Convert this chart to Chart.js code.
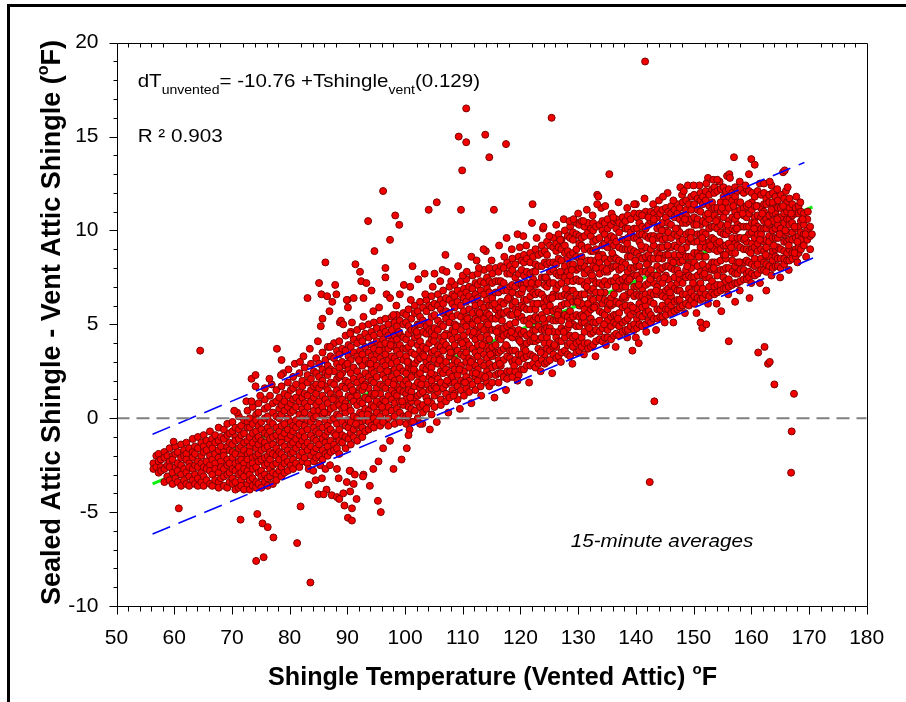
<!DOCTYPE html>
<html><head><meta charset="utf-8">
<script src="https://cdn.jsdelivr.net/npm/chart.js@4.4.1/dist/chart.umd.min.js"></script>
<style>html,body{margin:0;padding:0;background:#fff;}canvas{display:block;}</style>
</head><body>
<canvas id="c" width="906" height="702" style="width:906px;height:702px"></canvas>
<script>
const FONT = '"Liberation Sans", Arial, Helvetica, sans-serif';

// axis ranges / tick labels
const xRange = [50, 180];
const yRange = [-10, 20];
const xTickStep = 10, yTickStep = 5;

// regression line and prediction band
const fitX = [56.25, 170.6];
const fitY = [-3.50, 11.25];
const upperX = [56.25, 169.2];
const upperY = [-0.85, 13.62];
const lowerX = [56.25, 170.7];
const lowerY = [-6.17, 8.53];
const zeroX = [50, 180];
const zeroY = [0, 0];

// scatter cloud, columns: [x, y, y, ...]
const cloud55to70 = [
[56.4,-2.4,-2.7],[56.9,-2.0,-2.6],[57.3,-1.9,-2.3,-2.9],[57.7,-2.2,-2.6,-2.8],[58.3,-1.8,-2.1,-2.7,-3.4],
[58.8,-2.0,-2.5,-3.1],[59.2,-1.6,-2.3,-2.6,-3.3],[59.7,-2.0,-2.2,-2.9,-3.5],[60.2,-1.5,-1.9,-2.6,-3.2],
[60.6,-1.8,-2.4,-2.8,-3.4],[61.2,-1.4,-2.1,-2.5,-3.0,-3.6],[61.7,-1.7,-2.0,-2.7,-3.3],[62.1,-1.3,-1.9,-2.2,-2.9,-3.5],
[62.6,-1.6,-2.4,-2.6,-3.1,-3.6],[63.2,-1.1,-1.8,-2.1,-2.7,-3.3],[63.6,-1.5,-1.9,-2.5,-3.0,-3.5],
[64.1,-1.0,-1.6,-2.3,-2.6,-3.2,-3.6],[64.7,-1.3,-2.0,-2.4,-2.9,-3.4],[65.1,-0.9,-1.5,-1.8,-2.6,-3.1,-3.6],
[65.6,-1.2,-1.7,-2.3,-2.7,-3.3],[66.2,-0.7,-1.4,-2.0,-2.5,-2.8,-3.5],[66.6,-1.1,-1.6,-2.2,-3.0,-3.6],
[67.1,-0.9,-1.3,-1.9,-2.4,-2.7,-3.3],[67.7,-0.5,-1.2,-1.7,-2.1,-2.9,-3.4,-3.7],[68.1,-1.0,-1.5,-2.3,-2.6,-3.2],
[68.6,-0.6,-1.1,-1.8,-2.0,-2.7,-3.1,-3.6],[69.2,-0.3,-0.9,-1.5,-2.2,-2.5,-3.0,-3.7],[69.6,-0.8,-1.3,-1.7,-2.4,-2.9,-3.4]
];
const cloud70to85 = [
[70.1,-0.2,-0.7,-1.4,-1.8,-2.1,-2.7,-3.2,-3.5],[70.6,-0.5,-1.0,-1.2,-1.9,-2.4,-2.8,-3.4,-3.8],
[71.2,0.1,-0.6,-1.1,-1.6,-2.3,-2.6,-3.0,-3.7],[71.6,-0.4,-0.9,-1.5,-2.0,-2.2,-2.9,-3.3,-3.6],
[72.1,-0.1,-0.8,-1.3,-1.7,-2.4,-2.7,-3.1,-3.8],[72.7,0.4,-0.2,-0.5,-1.2,-1.9,-2.2,-2.8,-3.5],
[73.1,0.0,-0.5,-1.0,-1.5,-1.8,-2.5,-3.0,-3.3,-3.8],[73.6,0.6,-0.3,-0.8,-1.3,-2.1,-2.4,-2.7,-3.2,-3.6],
[74.2,0.2,-0.1,-0.7,-1.1,-1.6,-2.0,-2.6,-3.4,-3.7],[74.6,0.8,0.3,-0.4,-1.0,-1.4,-1.9,-2.3,-2.9,-3.5],
[75.1,-0.2,-0.6,-1.2,-1.7,-2.2,-2.8,-3.1,-3.7],[75.7,1.0,0.5,0.0,-0.8,-1.3,-1.6,-2.1,-2.5,-3.0,-3.4],
[76.2,0.6,0.1,-0.5,-0.9,-1.5,-2.0,-2.4,-3.2,-3.6],[76.6,1.2,-0.2,-0.7,-1.1,-1.8,-2.2,-2.7,-3.1],
[77.1,0.8,0.3,-0.3,-1.0,-1.4,-1.9,-2.5,-2.9,-3.5],[77.7,1.5,0.9,0.1,-0.5,-0.9,-1.6,-2.0,-2.4,-3.0,-3.3],
[78.2,1.1,0.5,0.0,-0.7,-1.2,-1.8,-2.2,-2.8],[78.6,1.7,0.7,0.2,-0.4,-1.0,-1.3,-1.9,-2.6,-3.1],
[79.1,1.3,0.9,0.4,-0.3,-0.8,-1.5,-2.1,-2.4,-2.9],[79.7,1.9,1.2,0.6,0.0,-0.6,-1.1,-1.7,-2.3,-2.8],
[80.2,1.5,0.8,0.3,-0.2,-0.9,-1.4,-1.9,-2.5],[80.6,2.2,1.6,1.0,0.4,-0.4,-0.7,-1.3,-1.8,-2.2,-2.7],
[81.1,1.8,1.1,0.6,-0.1,-0.5,-1.1,-1.6,-2.4],[81.7,2.4,1.4,0.9,0.2,-0.3,-0.9,-1.4,-2.0,-2.6],
[82.2,2.0,1.7,1.1,0.5,0.0,-0.7,-1.2,-1.8,-2.3],[82.6,2.7,1.3,0.8,0.3,-0.4,-1.0,-1.5,-2.1],
[83.1,2.3,1.9,1.2,0.6,-0.1,-0.6,-1.3,-1.7,-2.4],[83.7,2.9,2.1,1.5,0.9,0.2,-0.2,-0.9,-1.5,-2.0],
[84.2,2.5,1.7,1.1,0.4,0.0,-0.5,-1.1,-1.8,-2.3],[84.6,3.2,2.4,1.8,1.3,0.7,0.1,-0.7,-1.2,-1.6,-2.1]
];
const cloud85to100 = [
[85.1,2.9,2.2,1.6,0.9,0.4,-0.3,-0.8,-1.4,-2.0],[85.7,3.5,2.6,2.0,1.2,0.6,0.2,-0.5,-1.1,-1.7,-2.2],
[86.2,3.1,2.4,1.7,1.0,-0.1,-0.9,-1.3,-1.9],[86.6,3.8,2.8,2.3,1.5,0.8,0.3,-0.4,-0.7,-1.5,-2.0],
[87.1,3.3,2.6,1.9,1.3,0.5,-0.1,-0.6,-1.2,-1.8],[87.7,4.0,3.2,2.5,1.8,1.1,0.6,0.0,-0.8,-1.4,-1.7],
[88.2,3.6,2.9,2.1,1.5,0.9,0.2,-0.3,-1.0,-1.6],[88.6,4.1,3.4,2.7,2.2,1.3,0.7,0.1,-0.6,-1.2,-1.9],
[89.1,3.7,3.0,2.4,1.7,1.0,0.5,-0.2,-0.9,-1.3],[89.7,4.4,3.6,2.8,2.0,1.6,0.8,0.3,-0.4,-1.0,-1.6],
[90.2,3.9,3.3,2.6,1.9,1.2,0.6,-0.1,-0.5,-1.1],[90.6,4.6,3.8,3.1,2.4,1.7,1.1,0.4,-0.2,-0.8,-1.4],
[91.1,4.2,3.5,2.7,2.1,1.4,0.9,0.1,-0.6,-1.0],[91.7,4.7,4.0,3.3,2.5,1.9,1.2,0.7,0.0,-0.4,-1.2],
[92.2,4.3,3.6,3.0,2.2,1.6,0.9,0.3,-0.3,-0.8],[92.6,4.9,4.1,3.4,2.8,2.0,1.5,0.8,0.2,-0.5,-1.0],
[93.1,4.5,3.8,3.1,2.4,1.8,1.1,0.5,-0.1,-0.7],[93.7,5.0,4.3,3.5,2.9,2.2,1.6,1.0,0.4,-0.2,-0.6],
[94.2,4.6,3.9,3.3,2.6,2.0,1.3,0.7,0.1,-0.4],[94.6,5.1,4.4,3.7,3.1,2.4,1.9,1.2,0.6,0.0,-0.5],
[95.1,4.8,4.1,3.4,2.8,2.2,1.6,0.9,0.3,-0.2],[95.7,5.2,4.5,3.9,3.2,2.6,1.8,1.3,0.7,0.1,-0.4],
[96.2,4.8,4.2,3.6,3.0,2.3,1.7,1.0,0.5,-0.2],[96.6,5.3,4.6,4.0,3.4,2.8,2.1,1.6,0.9,0.3],
[97.1,5.0,4.4,3.7,3.1,2.5,1.9,1.2,0.6,0.0,-0.4],[97.7,5.4,4.7,4.1,3.3,2.9,2.2,1.5,1.0,0.4],
[98.2,5.1,4.4,3.8,3.2,2.6,2.0,1.3,0.8,0.1,-0.3],[98.6,5.5,4.9,4.2,3.6,3.0,2.4,1.7,1.2,0.5],
[99.1,5.2,4.5,3.9,3.4,2.7,2.1,1.5,0.9,0.3,-0.2],[99.7,5.6,5.0,4.3,3.7,3.1,2.5,1.8,1.4,0.7,0.1]
];
const cloud100to115 = [
[100.2,5.5,5.1,4.2,3.7,3.3,2.4,2.0,1.3,1.0,0.1,-0.3],[100.6,5.8,4.9,4.5,3.8,3.0,2.7,1.8,1.5,0.6,0.2],
[101.1,5.3,4.7,4.0,3.5,2.6,2.2,1.4,0.9,0.5,-0.2],[101.7,6.0,5.6,4.7,4.3,3.4,2.9,2.5,1.7,1.1,0.4],
[102.2,5.7,5.0,4.4,3.9,3.1,2.3,1.9,1.2,0.8,0.0],[102.6,6.2,5.4,5.0,4.1,3.6,3.2,2.4,1.6,1.3,0.6],
[103.1,5.9,5.2,4.6,3.8,3.4,2.7,2.1,1.4,0.7,0.3],[103.7,6.3,5.7,4.9,4.5,3.7,3.0,2.6,1.8,1.1,0.5],
[104.2,6.0,5.1,4.7,4.0,3.2,2.8,2.2,1.5,0.9],[104.6,6.5,5.9,5.4,4.6,4.2,3.5,2.7,2.0,1.6,0.8,0.2],
[105.1,6.1,5.5,4.8,4.4,3.6,3.1,2.3,1.7,1.2,0.6],[105.7,6.6,6.0,5.2,4.7,3.9,3.4,2.9,2.1,1.4],
[106.2,6.3,5.8,5.0,4.3,3.8,3.2,2.5,1.9,1.0,0.7],[106.6,6.8,6.1,5.6,4.9,4.1,3.6,2.8,2.4,1.6],
[107.1,6.4,5.7,5.3,4.5,3.9,3.0,2.6,1.8,1.3,0.9],[107.7,7.0,6.3,5.6,5.1,4.4,3.7,3.3,2.4,1.9,1.1],
[108.2,6.6,6.1,5.4,4.7,4.2,3.5,2.8,2.2,1.5],[108.6,7.1,6.5,5.9,5.0,4.6,3.9,3.1,2.6,1.9,1.3],
[109.1,6.8,6.2,5.5,4.9,4.3,3.6,3.0,2.3,1.7,1.0],[109.7,7.3,6.6,6.0,5.4,4.7,4.1,3.4,2.8,2.0,1.5],
[110.2,6.9,6.4,5.7,5.1,4.4,3.8,3.3,2.5,1.9,1.2],[110.6,7.4,6.7,6.2,5.4,4.9,4.1,3.5,3.0,2.2,1.6],
[111.1,7.0,6.5,5.8,5.2,4.6,3.9,3.2,2.7,2.0,1.4],[111.7,7.6,6.9,6.3,5.6,5.0,4.4,3.7,3.1,2.4,1.8],
[112.2,7.2,6.6,6.0,5.3,4.7,4.2,3.5,2.8,2.2,1.5],[112.6,7.7,7.1,6.4,5.7,5.2,4.5,3.9,3.3,2.6,2.0],
[113.1,7.3,6.8,6.1,5.5,4.9,4.3,3.6,3.0,2.3,1.7],[113.7,7.9,7.2,6.6,5.9,5.3,4.7,4.0,3.4,2.8,2.1],
[114.2,7.5,6.9,6.3,5.6,5.1,4.4,3.8,3.2,2.5,1.9],[114.6,8.0,7.3,6.7,6.0,5.5,4.8,4.2,3.6,2.9,2.3,1.7]
];
const cloud115to130 = [
[115.1,7.7,7.2,6.4,6.0,5.3,4.7,3.8,3.3,2.7,1.9],[115.7,8.0,7.3,6.7,5.8,5.3,4.7,3.9,3.5,2.8,2.3],
[116.2,7.8,7.3,6.7,5.9,5.5,4.8,4.3,3.5,3.1,2.4,1.9],[116.6,8.1,7.3,6.9,6.2,5.6,4.7,4.2,3.6,2.8,2.4],
[117.1,8.0,7.2,6.8,6.1,5.6,4.8,4.4,3.7,3.1,2.2],[117.7,8.3,7.7,6.8,6.3,5.7,4.9,4.5,3.8,3.3,2.5,2.1],
[118.2,8.1,7.7,7.0,6.4,5.5,5.0,4.4,3.6,3.2,2.5],[118.6,8.5,7.9,7.1,6.7,6.0,5.5,4.7,4.3,3.6,3.0,2.2],
[119.1,8.2,7.5,7.0,6.2,5.8,5.1,4.5,3.6,3.1,2.5],[119.7,8.6,7.7,7.2,6.6,5.8,5.4,4.7,4.2,3.4,3.0,2.3],
[120.2,8.4,7.9,7.1,6.7,6.0,5.4,4.5,4.0,3.4,2.6],[120.6,8.7,8.3,7.6,7.1,6.3,5.9,5.2,4.6,3.7,3.2,2.6],
[121.1,8.5,7.8,7.2,6.3,5.8,5.2,4.4,4.0,3.3,2.8],[121.7,8.8,8.3,7.7,6.9,6.5,5.8,5.3,4.5,4.1,3.4,2.8],
[122.2,8.6,7.8,7.4,6.7,6.1,5.2,4.7,4.1,3.3,2.9],[122.6,9.0,8.2,7.8,7.1,6.6,5.8,5.4,4.7,4.1,3.2,2.7],
[123.1,8.7,8.1,7.2,6.7,6.1,5.3,4.9,4.2,3.7,2.9],[123.7,9.2,8.8,8.1,7.5,6.6,6.1,5.5,4.7,4.3,3.6,3.1],
[124.2,8.9,8.3,7.5,7.1,6.4,5.9,5.1,4.7,4.0,3.4,2.9],[124.6,9.4,8.7,8.2,7.4,7.0,6.3,5.7,4.8,4.3,3.7,3.0],
[125.1,9.2,8.3,7.8,7.2,6.4,6.0,5.3,4.8,4.0,3.6,3.1],[125.7,9.6,9.1,8.3,7.9,7.2,6.6,5.7,5.2,4.6,3.8,3.4],
[126.2,9.3,8.9,8.2,7.7,6.9,6.5,5.8,5.2,4.3,3.8,3.2],[126.6,9.8,9.1,8.5,7.6,7.1,6.5,5.7,5.3,4.6,4.1,3.3],
[127.1,9.5,9.0,8.4,7.6,7.2,6.5,6.0,5.2,4.8,4.1,3.5],[127.7,10.0,9.2,8.8,8.1,7.5,6.6,6.1,5.5,4.7,4.3,3.6],
[128.2,9.7,8.9,8.5,7.8,7.3,6.5,6.1,5.4,4.8,3.9,3.4],[128.6,10.2,9.6,8.7,8.2,7.6,6.8,6.4,5.7,5.2,4.4,4.0,3.3],
[129.1,9.9,9.5,8.8,8.2,7.3,6.8,6.2,5.4,5.0,4.3,3.8],[129.7,10.4,9.8,9.0,8.6,7.9,7.4,6.6,6.2,5.5,4.9,4.0,3.5]
];
const cloud130to145 = [
[130.2,10.3,9.7,9.3,8.5,8.0,7.3,6.4,6.0,5.4,4.9,4.1,3.6],[130.6,10.5,9.6,9.2,8.6,8.1,7.3,6.6,6.1,5.5,5.1,4.3,3.8],
[131.1,10.2,9.7,9.0,8.1,7.7,7.1,6.6,5.8,5.1,4.6,4.0],[131.7,10.4,9.9,9.1,8.4,7.9,7.3,6.9,6.1,5.6,4.9,4.0,3.7],
[132.2,10.1,9.7,8.9,8.4,7.7,6.8,6.4,5.8,5.3,4.5,3.8],[132.6,10.4,10.0,9.4,8.9,8.1,7.4,6.9,6.3,5.9,5.1,4.6,3.9],
[133.1,10.2,9.5,9.0,8.4,8.0,7.2,6.7,6.0,5.1,4.7,4.1],[133.7,10.3,9.6,8.7,8.3,7.7,7.2,6.4,5.7,5.2,4.6,4.2],
[134.2,10.5,10.0,9.2,8.7,8.0,7.1,6.7,6.1,5.6,4.8,4.1],[134.6,10.4,9.8,9.3,8.5,7.8,7.3,6.7,6.3,5.5,5.0,4.3],
[135.1,10.6,10.1,9.5,9.1,8.3,7.8,7.1,6.2,5.8,5.2,4.7,4.3],[135.7,10.3,9.7,9.3,8.5,8.0,7.3,6.4,6.0,5.4,4.9,4.2],
[136.2,10.5,9.6,9.2,8.6,8.1,7.3,6.6,6.1,5.5,5.1,4.4],[136.6,10.6,10.1,9.4,8.5,8.1,7.5,7.0,6.2,5.5,5.0,4.5],
[137.1,10.4,9.9,9.1,8.4,7.9,7.3,6.9,6.1,5.6,4.9,4.4],[137.7,10.7,10.3,9.5,9.0,8.3,7.4,7.0,6.4,5.9,5.1,4.6],
[138.2,10.5,10.1,9.5,9.0,8.2,7.5,7.0,6.4,6.0,5.2,4.7],[138.6,10.8,10.1,9.6,9.0,8.6,7.8,7.3,6.6,5.7,5.3,4.7],
[139.1,10.6,9.9,9.0,8.6,8.0,7.5,6.7,6.0,5.5,4.9],[139.7,10.9,10.1,9.6,8.9,8.0,7.6,7.0,6.5,5.7,5.0,4.7],
[140.2,10.7,10.1,9.6,8.8,8.1,7.6,7.0,6.6,5.8,5.3,4.8],[140.6,10.9,10.4,9.8,9.4,8.6,8.1,7.4,6.5,6.1,5.5,5.0],
[141.1,10.8,10.2,9.8,9.0,8.5,7.8,6.9,6.5,5.9,5.4,4.9],[141.7,11.0,10.1,9.7,9.1,8.6,7.8,7.1,6.6,6.0,5.6,5.0],
[142.2,10.8,10.3,9.6,8.7,8.3,7.7,7.2,6.4,5.7,5.2],[142.6,11.0,10.5,9.7,9.0,8.5,7.9,7.5,6.7,6.2,5.5,5.1],
[143.1,10.9,10.5,9.7,9.2,8.5,7.6,7.2,6.6,6.1,5.3],[143.7,11.1,10.7,10.1,9.6,8.8,8.1,7.6,7.0,6.6,5.8,5.3],
[144.2,10.9,10.2,9.7,9.1,8.7,7.9,7.4,6.7,5.8,5.4],[144.6,11.1,10.4,9.5,9.1,8.5,8.0,7.2,6.5,6.0,5.4]
];
const cloud145to160 = [
[145.2,11.2,10.7,10.0,9.6,8.7,8.1,7.6,6.8,6.4,5.8,5.5],[145.6,11.0,10.4,9.9,9.1,8.7,8.1,7.4,6.9,6.2,5.8],
[146.1,11.3,10.9,10.3,9.6,9.1,8.4,8.0,7.1,6.5,6.0,5.6],[146.7,11.1,10.7,9.8,9.2,8.7,7.9,7.5,6.9,6.2,5.7],
[147.2,11.4,10.9,10.1,9.7,9.1,8.4,7.9,7.2,6.8,6.3,5.8],[147.6,11.2,10.6,9.9,9.4,8.7,8.3,7.4,6.8,6.3,5.9],
[148.1,11.5,10.8,10.4,9.5,8.9,8.4,7.6,7.2,6.6,6.0],[148.7,11.6,11.1,10.8,10.4,9.8,9.1,8.6,7.9,7.5,6.6,6.1],
[149.2,11.4,10.5,9.9,9.4,8.6,8.2,7.6,6.9,6.4,6.0],[149.6,11.8,11.1,10.6,9.9,9.5,8.6,8.0,7.5,6.7,6.3],
[150.1,11.9,11.4,10.7,10.3,9.4,8.8,8.3,7.5,7.1,6.5,6.1],[150.7,11.7,11.1,10.6,9.8,9.4,8.8,8.1,7.6,6.9,6.4],
[151.2,12.0,11.6,11.0,10.3,9.8,9.1,8.7,7.8,7.2,6.7,6.3],[151.6,11.8,11.4,10.5,9.9,9.4,8.6,8.2,7.6,6.9,6.4],
[152.1,12.1,11.6,10.8,10.4,9.8,9.1,8.6,7.9,7.5,6.6],[152.7,11.9,11.3,10.6,10.1,9.4,9.0,8.1,7.5,7.0,6.5],
[153.2,12.2,11.5,11.1,10.2,9.6,9.1,8.3,7.9,7.3,6.7],[153.6,12.3,12.0,11.2,10.8,10.2,9.5,9.0,8.3,7.9,7.0,6.6],
[154.1,12.1,11.2,10.6,10.1,9.3,8.9,8.3,7.6,7.1,6.7],[154.7,12.2,11.5,11.0,10.3,9.9,9.0,8.4,7.9,7.1,6.8],
[155.2,12.3,11.8,11.1,10.7,9.8,9.2,8.7,7.9,7.5,6.9],[155.6,12.1,11.5,11.0,10.2,9.8,9.2,8.5,8.0,7.3,6.9],
[156.1,12.2,11.8,11.2,10.5,10.0,9.3,8.9,8.0,7.4,7.0],[156.7,12.0,11.6,10.7,10.1,9.6,8.8,8.4,7.8,7.1],
[157.2,12.3,11.8,11.0,10.6,10.0,9.3,8.8,8.1,7.7,7.2],[157.6,12.1,11.5,10.8,10.3,9.6,9.2,8.3,7.7,7.2],
[158.1,12.2,11.5,11.1,10.2,9.6,9.1,8.3,7.9,7.3],[158.7,12.0,11.2,10.8,10.2,9.5,9.0,8.3,7.9,7.4],
[159.2,12.2,11.3,10.7,10.2,9.4,9.0,8.4,7.7,7.4],[159.6,12.1,11.4,10.9,10.2,9.8,8.9,8.3,7.8,7.5]
];
const cloud160to171 = [
[160.1,12.0,11.5,11.1,10.4,9.9,9.3,9.0,8.2,7.7],[160.6,11.8,11.3,10.7,10.4,9.6,9.1,8.5,8.1,7.6],
[161.1,12.1,11.3,10.8,10.2,9.8,9.3,8.9,8.2,7.7],[161.7,11.9,11.2,10.7,10.1,9.8,9.0,8.5,7.9],
[162.2,12.0,11.4,11.0,10.5,10.1,9.4,8.9,8.3,7.9],[162.6,11.7,11.4,10.6,10.1,9.5,9.1,8.6,8.2,7.8],
[163.1,11.9,11.5,10.8,10.3,9.7,9.4,8.6,8.1],[163.7,12.0,11.5,10.9,10.5,10.0,9.6,8.9,8.4,8.0],
[164.2,11.8,11.2,10.9,10.1,9.6,9.0,8.6,8.1],[164.6,11.6,11.2,10.7,10.3,9.6,9.1,8.5,8.1],
[165.1,11.9,11.2,10.7,10.1,9.8,9.0,8.5,8.0],[165.7,11.7,10.9,10.4,9.8,9.4,8.9,8.5,8.2],
[166.2,11.5,11.0,10.6,9.9,9.4,8.8,8.4],[166.6,11.7,11.2,10.6,10.3,9.5,9.0,8.4],
[167.1,11.4,10.8,10.4,9.9,9.5,8.8,8.5],[167.7,11.2,10.9,10.1,9.6,9.0,8.6],
[168.2,11.3,10.9,10.2,9.7,9.1,8.8],[168.6,11.0,10.5,9.9,9.5,9.0],
[169.1,10.9,10.3,9.8,9.2],[169.7,10.6,10.0,9.5],[170.2,10.2,9.7,9.0],[170.5,9.8]
];

// extra points inside and along the edges of the cloud: [x, y]
const cloudFill = [
[85.5,1.8],[86.0,0.3],[86.8,2.5],[87.5,1.0],[88.0,-0.9],[88.8,2.3],[89.5,0.6],[90.0,2.9],[90.9,1.5],[91.5,-0.3],
[92.0,3.1],[92.9,1.7],[93.5,0.2],[94.0,2.9],[94.8,1.3],[95.5,3.6],[96.0,0.6],[96.9,2.5],[97.5,3.9],[98.0,1.8],
[98.9,4.6],[99.5,0.9],
[100.4,3.0],[100.9,1.1],[101.5,2.6],[102.0,4.6],[102.8,1.8],[103.3,3.3],[103.9,0.9],[104.5,2.4],[105.0,4.1],[105.4,1.6],
[106.0,3.1],[106.8,4.4],[107.3,2.0],[107.9,3.5],[108.4,1.2],[108.8,4.9],[109.4,2.6],[109.9,4.0],[110.4,1.9],[110.8,5.3],
[111.4,3.0],[111.9,4.6],[112.3,2.4],[112.9,5.6],[113.4,3.9],[113.9,2.2],[114.4,5.0],[114.8,3.4],[115.5,6.1],[115.9,4.6],
[116.4,2.9],[116.8,5.2],[117.5,3.9],[117.9,6.4],[118.4,4.6],[118.9,2.8],[119.5,5.6],[119.9,4.1],[120.4,6.9],[120.9,3.6],
[121.5,5.0],[121.9,7.2],[122.4,4.3],[122.9,6.1],[123.5,3.5],[123.9,5.3],[124.4,7.5],[124.9,4.6],[125.5,6.4],[125.9,3.9],
[126.4,5.5],[126.9,7.8],[127.5,4.6],[127.9,6.9],[128.4,5.0],[128.9,7.9],[129.5,4.4],[129.9,6.2],[130.4,8.3],[130.9,5.4],
[131.5,7.0],[131.9,4.8],[132.4,7.6],[132.8,5.9],[133.5,8.6],[133.9,6.7],[134.5,5.0],[134.9,7.9],[135.5,6.1],[135.9,8.8],
[136.5,7.0],[136.9,5.3],[137.5,8.0],[137.9,6.5],[138.5,9.3],[138.9,7.4],[139.5,5.9],[139.9,8.4],[140.5,7.1],[140.9,9.2],
[141.5,6.3],[141.9,8.2],[142.5,7.4],[142.9,9.5],[143.5,6.8],[143.9,8.5],[144.5,10.0],[144.9,7.5],[145.5,9.2],[145.9,6.7],
[146.5,8.3],[146.9,10.1],[147.5,7.7],[147.9,9.0],[148.5,10.6],[148.9,8.1],[149.5,9.6],[149.9,7.2],[150.5,10.3],[150.9,8.6],
[151.5,9.6],[151.9,7.7],[152.5,10.9],[152.9,9.2],[153.5,8.0],[153.9,10.5],[154.5,9.4],[154.9,11.2],[155.5,8.7],[155.9,10.3],
[156.5,9.1],[156.9,11.3],[157.5,10.1],[157.9,8.3],[158.5,10.9],[158.9,9.6],[159.5,11.4],[159.9,8.8],[160.5,10.1],[160.9,11.3],
[161.5,9.5],[161.9,10.9],[162.5,8.7],[162.9,10.4],[163.5,11.1],[163.9,9.2],[164.5,10.6],[164.9,9.8],[165.5,11.3],[165.9,10.0],
[166.5,9.2],[166.9,10.9],[167.5,10.2],[168.0,9.4],[168.9,10.6],[169.4,9.8],
[70.9,0.3],[72.5,0.9],[74.9,1.2],[76.9,1.8],[78.9,2.4],[80.9,2.9],[82.4,3.3],[83.5,3.7],[81.8,3.0],[79.8,2.6]
];
const cloudUpperEdge = [
[95.5,5.9],[96.8,6.6],[98.5,6.0],[99.8,7.1],[101.0,6.3],[102.3,7.4],[103.5,6.6],[104.8,7.0],[106.5,7.9],[108.0,7.3],
[109.2,8.1],[110.0,7.6],[111.5,8.6],[112.8,8.0],[114.0,8.9],[115.0,8.4],[116.3,9.2],[117.2,8.6],[118.5,9.0],[119.5,9.8],
[121.0,9.2],[122.8,9.6],[123.9,10.1],[125.0,9.7],[126.2,10.3],[127.5,10.6],[128.5,10.5],[130.0,10.9],[131.5,11.1],[132.5,10.8],
[134.0,11.2],[135.8,10.9],[137.0,11.5],[138.5,11.2],[140.0,11.4],[141.5,11.7],[143.0,11.4],[144.0,11.6],[145.5,12.0],[146.5,11.6],
[148.0,11.9],[149.0,12.4],[151.0,12.4],[152.5,12.8],[154.5,12.6],[155.8,12.9],[158.0,12.6],[159.0,12.4],[161.5,12.5],[163.5,12.4],
[164.5,12.2],[166.0,12.1],[168.5,11.5],[169.8,11.0]
];
const cloudLowerEdge = [
[100.8,-0.6],[103.0,-0.3],[105.5,-0.2],[107.5,0.3],[109.5,0.5],[111.5,0.8],[113.2,1.2],[115.5,1.1],[117.5,1.5],[119.5,2.0],
[121.5,1.9],[123.5,2.5],[125.5,2.4],[127.0,3.0],[129.0,2.9],[131.0,3.4],[133.0,3.3],[134.8,3.9],[136.5,3.8],[138.5,4.3],
[140.0,4.3],[141.8,4.6],[143.5,4.7],[145.0,5.1],[146.5,5.1],[148.5,5.6],[150.5,5.6],[152.5,6.1],[154.0,6.1],[156.0,6.6],
[158.0,6.8],[160.0,7.2],[161.5,7.2],[163.5,7.6],[165.0,7.5],[166.5,7.9],[168.0,8.3]
];

// scattered points outside the main cloud: [x, y]
const outliersAbove = [
[64.5,3.6],[70.4,0.4],[73.4,0.9],[73.4,2.1],[74.1,2.3],[74.1,1.7],[75.7,1.6],[76.5,2.1],[78.5,2.3],[77.8,3.7],[78.6,3.1],
[83.1,6.4],[85.1,7.2],[85.5,6.6],[86.2,8.3],[86.5,6.5],[86.9,5.7],[87.4,6.2],[87.9,7.1],[88.1,6.6],[85.7,5.3],[85.4,4.9],
[88.7,5.1],[88.9,5.2],[90.8,5.1],[90.0,6.3],[90.1,5.9],[91.1,6.4],[91.4,8.2],[92.2,7.8],[92.4,7.3],[84.9,4.1],[87.0,3.8],
[90.5,4.5],[92.8,5.4],[89.3,5.0],[92.8,6.4],[89.9,6.3],[94.5,5.7],[98.0,5.5],[99.1,6.6],[100.9,7.0],[97.4,6.4],[94.2,6.8],[93.3,7.2],
[93.6,10.5],[94.7,8.9],[96.2,12.1],[96.6,8.0],[96.6,7.5],[97.4,9.5],[98.3,10.8],[99.0,10.3],[101.3,8.1],[103.4,7.7],[105.1,7.7],
[106.1,7.3],[107.2,7.8],[107.0,8.7],[110.7,7.8],[112.4,8.4],[113.6,9.0],[117.6,9.6],[119.9,9.1],[120.5,9.7],[122.0,10.4],
[124.0,10.2],[126.9,9.5],[129.2,10.6],[130.9,10.5],
[104.1,11.1],[105.5,11.5],[109.7,11.1],[115.4,11.1],[122.1,11.4],[109.9,13.2],[109.3,15.0],[110.6,14.7],[110.6,16.5],
[113.9,15.1],[114.6,13.9],[117.5,14.6],[125.4,16.0],[141.6,19.0],
[133.3,11.9],[133.3,11.4],[133.5,11.8],[134.7,11.3],[135.4,13.0],[136.1,10.7],[139.7,11.4],[141.1,10.8],[142.2,10.7],
[143.1,10.6],[144.7,11.8],[147.7,12.3],[148.3,12.1],[150.0,12.4],[152.2,12.5],[153.4,12.7],[154.1,12.7],[156.2,13.0],
[156.3,12.8],[157.0,13.9],[159.6,13.0],[160.0,13.8],[160.6,13.5],[162.2,12.5],[163.2,12.6],[165.5,13.1],[165.8,13.2],
[166.3,12.3],[167.8,11.8]
];
const outliersBelow = [
[59.9,-1.25],[60.8,-4.8],[71.5,-5.4],[74.4,-5.1],[75.3,-5.6],[76.2,-5.8],[77.2,-6.35],[74.2,-7.6],[75.5,-7.4],
[81.3,-6.65],[83.6,-8.75],[81.9,-4.7],
[83.3,-2.7],[84.1,-2.8],[85.3,-2.5],[86.2,-2.7],[87.0,-2.5],[88.2,-2.7],[90.5,-2.8],[89.9,-3.4],[91.1,-3.5],[85.6,-3.2],
[83.3,-3.55],[90.5,-3.9],[92.8,-3.0],[84.5,-3.3],[86.4,-3.8],[88.5,-3.2],[89.3,-4.0],[91.6,-4.3],[93.9,-3.6],
[85.0,-4.05],[85.9,-4.05],[87.3,-4.1],[88.2,-4.2],[88.6,-4.3],[89.5,-4.65],[90.8,-4.8],[90.1,-5.3],[90.8,-5.45],
[95.3,-4.4],[95.8,-5.0],
[90.4,-2.8],[91.3,-3.0],[92.7,-3.1],[94.5,-2.7],[95.4,-2.3],[96.2,-1.6],[97.4,-1.2],[98.0,-2.7],[99.4,-2.2],
[100.3,-1.6],[100.6,-0.9],[101.4,-0.2],[102.6,-0.3],[104.3,-0.6],
[139.4,3.6],[140.5,4.0],[151.2,5.1],[151.5,4.8],[152.2,5.0],[154.8,5.7],[157.2,6.2],[159.7,6.4],[162.6,6.8],
[167.5,8.8],[169.5,8.6],
[143.2,0.9],[142.4,-3.4],[156.1,4.1],[161.2,3.5],[162.3,3.8],[162.9,2.9],[163.2,3.0],[164.0,1.8],[167.4,1.3],
[167.0,-0.7],[166.9,-2.9]
];

// ---- build Chart.js data from the arrays ----
function fromColumns(list, out) { for (const c of list) for (let i = 1; i < c.length; i++) out.push({x: c[0], y: c[i]}); }
function fromPairs(list, out) { for (const p of list) out.push({x: p[0], y: p[1]}); }
function line(xa, ya) { return xa.map((v, i) => ({x: v, y: ya[i]})); }

const points = [];
[cloud55to70, cloud70to85, cloud85to100, cloud100to115, cloud115to130, cloud130to145, cloud145to160, cloud160to171]
  .forEach(s => fromColumns(s, points));
[cloudFill, cloudUpperEdge, cloudLowerEdge, outliersAbove, outliersBelow].forEach(s => fromPairs(s, points));

function drawParts(ctx, parts, x, y, targetW) {
  let w = 0;
  for (const p of parts) { ctx.font = p.font; p.w = ctx.measureText(p.t).width; w += p.w; }
  const s = targetW ? targetW / w : 1;
  ctx.save();
  ctx.translate(x, y);
  ctx.scale(s, 1);
  let cx = 0;
  for (const p of parts) { ctx.font = p.font; ctx.fillText(p.t, cx, p.dy || 0); cx += p.w; }
  ctx.restore();
}

const framePlugin = {
  id: 'frame',
  afterDraw(chart) {
    const ctx = chart.ctx;
    const xs = chart.scales.x, ys = chart.scales.y;
    const a = chart.chartArea;
    const L = Math.round(a.left) + 0.5, R = Math.round(a.right) + 0.5;
    const T = Math.round(a.top) + 0.5, B = Math.round(a.bottom) + 0.5;
    ctx.save();
    ctx.fillStyle = '#000';
    ctx.fillRect(7, 4, 899, 3);
    ctx.fillRect(7, 4, 3, 698);
    ctx.strokeStyle = '#000';
    ctx.lineWidth = 1;
    ctx.beginPath();
    ctx.moveTo(L, T); ctx.lineTo(R, T); ctx.lineTo(R, B); ctx.lineTo(L, B); ctx.closePath();
    ctx.stroke();
    ctx.beginPath();
    for (let v = xRange[0]; v <= xRange[1]; v += 2) {
      const px = Math.round(xs.getPixelForValue(v)) + 0.5;
      const major = v % 10 === 0;
      ctx.moveTo(px, B); ctx.lineTo(px, B + (major ? 8 : 5));
      if (!major) { ctx.moveTo(px, T); ctx.lineTo(px, T + 4); }
    }
    for (let v = yRange[0]; v <= yRange[1]; v += 1) {
      const py = Math.round(ys.getPixelForValue(v)) + 0.5;
      const major = v % 5 === 0;
      ctx.moveTo(L, py); ctx.lineTo(L - (major ? 8 : 4), py);
    }
    ctx.stroke();

    ctx.fillStyle = '#000';
    ctx.textBaseline = 'alphabetic';
    ctx.textAlign = 'left';
    const bold = 'bold 25px ' + FONT;
    drawParts(ctx, [
      {t: 'Shingle Temperature (Vented Attic) ', font: bold},
      {t: 'o', font: 'bold 15px ' + FONT, dy: -11},
      {t: 'F', font: bold}
    ], 268, 685, 449);
    ctx.save();
    ctx.translate(59.5, 605);
    ctx.rotate(-Math.PI / 2);
    const yb = 'bold 27px ' + FONT;
    drawParts(ctx, [
      {t: 'Sealed Attic Shingle - Vent Attic Shingle (', font: yb},
      {t: 'o', font: 'bold 16px ' + FONT, dy: -12},
      {t: 'F)', font: yb}
    ], 0, 0, 565);
    ctx.restore();
    const f = '19px ' + FONT, fs = '13px ' + FONT;
    drawParts(ctx, [
      {t: 'dT', font: f}, {t: 'unvented', font: fs, dy: 6.7}, {t: '= -10.76 +Tshingle', font: f},
      {t: 'vent', font: fs, dy: 6.7}, {t: '(0.129)', font: f}
    ], 137.7, 87.3, 342.3);
    drawParts(ctx, [{t: 'R ² 0.903', font: f}], 137.7, 141.7, 85);
    drawParts(ctx, [{t: '15-minute averages', font: 'italic 19px ' + FONT}], 570.7, 546.7, 182.6);
    ctx.restore();
  }
};

new Chart(document.getElementById('c'), {
  type: 'scatter',
  data: {
    datasets: [
      {type: 'line', data: line(zeroX, zeroY), borderColor: '#808080', borderWidth: 2, borderDash: [13, 7], pointRadius: 0, fill: false, order: 0},
      {type: 'line', data: line(upperX, upperY), borderColor: '#0000ff', borderWidth: 1.6, borderDash: [19, 9], pointRadius: 0, fill: false, order: 0},
      {type: 'line', data: line(lowerX, lowerY), borderColor: '#0000ff', borderWidth: 1.6, borderDash: [19, 9], pointRadius: 0, fill: false, order: 0},
      {data: points, backgroundColor: '#f20000', borderColor: '#7a0000', borderWidth: 1, pointRadius: 3.5, order: 1},
      {type: 'line', data: line(fitX, fitY), borderColor: '#10ee10', borderWidth: 3, pointRadius: 0, fill: false, order: 2}
    ]
  },
  options: {
    responsive: false,
    animation: false,
    events: [],
    layout: {padding: {left: 0, right: 39.3, top: 42.7, bottom: 0}},
    plugins: {legend: {display: false}, tooltip: {enabled: false}},
    scales: {
      x: {
        type: 'linear', min: xRange[0], max: xRange[1],
        afterFit(s) { s.height = 96; },
        grid: {display: false, drawTicks: false},
        border: {display: false},
        ticks: {stepSize: xTickStep, padding: 20, color: '#000', autoSkip: false, maxRotation: 0, font: {family: FONT, size: 21}}
      },
      y: {
        type: 'linear', min: yRange[0], max: yRange[1],
        afterFit(s) { s.width = 116.5; },
        grid: {display: false, drawTicks: false},
        border: {display: false},
        ticks: {stepSize: yTickStep, padding: 18, color: '#000', font: {family: FONT, size: 21}}
      }
    }
  },
  plugins: [framePlugin]
});
</script>
</body></html>
